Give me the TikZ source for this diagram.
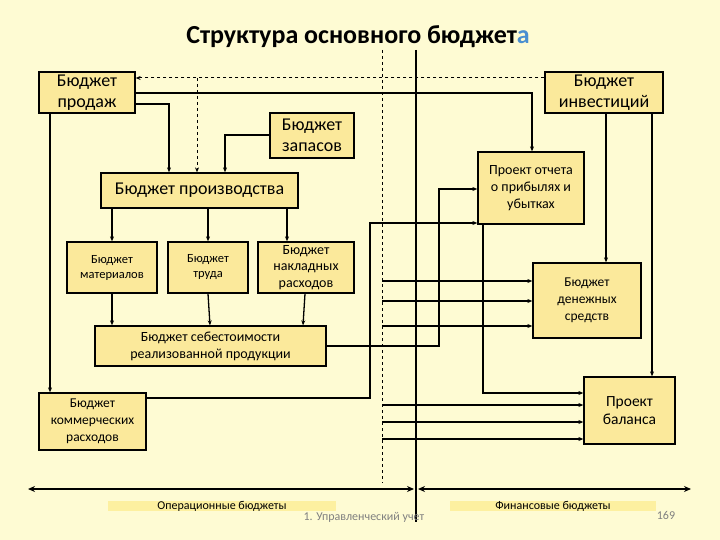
\documentclass[tikz,border=0pt]{standalone}
\usepackage{fontspec}
\setmainfont{Carlito}
\usetikzlibrary{arrows.meta}
\definecolor{bg}{HTML}{FEFBD3}
\definecolor{boxf}{HTML}{FBE99B}
\definecolor{band}{HTML}{FDF0A0}
\definecolor{ttl}{HTML}{4A8FD0}
\newcommand{\fsz}[1]{\fontsize{#1}{#1*1.15}\selectfont}
\begin{document}
\begin{tikzpicture}[x=1pt,y=-1pt,
  box/.style={draw=black,line width=1.3pt,fill=boxf,align=center,inner sep=1pt,font=\fontsize{18}{21}\selectfont},
  sbox/.style={box,font=\fontsize{12.5}{15}\selectfont},
  ar/.style={line width=1.3pt,-{Stealth[length=5pt,width=4pt]}},
  bnd/.style={fill=band,inner sep=0pt,font=\fontsize{12}{14}\selectfont}]
\fill[bg] (0,0) rectangle (720,540);
\useasboundingbox (0,0) rectangle (720,540);
\node[font=\bfseries\fontsize{26}{30}\selectfont] (title) at (358,37) {Структура основного бюджет\textcolor{ttl}{а}};
% axes
\coordinate (dt) at (382,50); \coordinate (db) at (382,483);
\coordinate (st) at (416,50); \coordinate (sb) at (416,522);
\draw[line width=0.9pt,dashed] (dt) -- (db);
\draw[line width=2.2pt] (st) -- (sb);
% boxes
\node[box,minimum width=96pt,minimum height=41pt] (prod) at (87,92.5) {Бюджет\\продаж};
\node[box,minimum width=118pt,minimum height=41pt] (inv) at (604,92.5) {Бюджет\\инвестиций};
\node[box,minimum width=84pt,minimum height=45pt] (zap) at (312,135.5) {Бюджет\\запасов};
\node[box,minimum width=197pt,minimum height=35pt] (pr) at (199.5,190.5) {Бюджет производства};
\node[sbox,font=\fontsize{14}{17}\selectfont,minimum width=106pt,minimum height=72pt] (otch) at (531,188) {Проект отчета\\о прибылях и\\убытках};
\node[sbox,minimum width=90pt,minimum height=51pt] (mat) at (112,267.5) {Бюджет\\материалов};
\node[sbox,minimum width=80pt,minimum height=51pt] (tr) at (208,267.5) {Бюджет\\труда};
\node[sbox,font=\fontsize{14}{16.5}\selectfont,minimum width=96pt,minimum height=51pt] (nak) at (306,267.5) {Бюджет\\накладных\\расходов};
\node[sbox,font=\fontsize{14}{17}\selectfont,minimum width=231pt,minimum height=40pt] (seb) at (210.5,346) {Бюджет себестоимости\\реализованной продукции};
\node[sbox,font=\fontsize{13.5}{17}\selectfont,minimum width=107pt,minimum height=57pt] (kom) at (92.5,421.5) {Бюджет\\коммерческих\\расходов};
\node[sbox,font=\fontsize{13.5}{17}\selectfont,minimum width=108pt,minimum height=75pt] (den) at (587,300.5) {Бюджет\\денежных\\средств};
\node[sbox,font=\fontsize{15.5}{18.5}\selectfont,minimum width=91pt,minimum height=67pt] (bal) at (629.5,410.5) {Проект\\баланса};
% dashed links
\draw[ar,dashed,line width=1pt] (inv.west |- 0,78) -- (prod.east |- 0,78);
\draw[ar,dashed,line width=1pt] (197,78) -- (pr.north -| 197,0);
% solid links
\draw[ar] (prod.east |- 0,93) -- (532,93) -- (otch.north -| 532,0);
\draw[ar] (prod.east |- 0,104) -- (169,104) -- (pr.north -| 169,0);
\draw[ar] (prod.south -| 50,0) -- (kom.north -| 50,0);
\draw[ar] (zap.west |- 0,135) -- (225,135) -- (pr.north -| 225,0);
\draw[ar] (pr.south -| 112,0) -- (mat.north);
\draw[ar] (pr.south -| 208,0) -- (tr.north);
\draw[ar] (pr.south -| 287,0) -- (nak.north -| 287,0);
\draw[ar] (mat.south) -- (seb.north -| 112,0);
\draw[ar] (tr.south) -- (seb.north -| 210,0);
\draw[ar] (nak.south -| 305,0) -- (seb.north -| 303,0);
\draw[ar] (seb.east |- 0,346) -- (439,346) -- (439,189) -- (otch.west |- 0,189);
\draw[ar] (kom.east |- 0,398) -- (370,398) -- (370,223) -- (otch.west |- 0,223);
\draw[ar] (otch.south -| 483,0) -- (483,393) -- (bal.west |- 0,393);
\draw[ar] (inv.south -| 606,0) -- (den.north -| 606,0);
\draw[ar] (inv.south -| 652,0) -- (bal.north -| 652,0);
\foreach \yy in {281,301,326} \draw[ar] (382,\yy) -- (den.west |- 0,\yy);
\foreach \yy in {405,422,439} \draw[ar] (382,\yy) -- (bal.west |- 0,\yy);
% bottom axis
\coordinate (bl) at (28,489); \coordinate (bm1) at (414,489);
\coordinate (bm2) at (418,489); \coordinate (br) at (691,489);
\draw[line width=1.6pt,{Stealth[length=7pt,width=6pt]}-{Stealth[length=7pt,width=6pt]}] (bl) -- (bm1);
\draw[line width=1.6pt,{Stealth[length=7pt,width=6pt]}-{Stealth[length=7pt,width=6pt]}] (bm2) -- (br);
\node[bnd,minimum width=228pt,minimum height=10pt] (op) at (222,506) {Операционные бюджеты};
\node[bnd,minimum width=206pt,minimum height=10pt] (fin) at (553,506) {Финансовые бюджеты};
\node[font=\fontsize{12}{14}\selectfont,text=gray,anchor=west] (uu) at (300,517) {1. Управленческий учет};
\node[font=\fontsize{12}{14}\selectfont,text=gray] (pg) at (666,515) {169};
\end{tikzpicture}
\end{document}
